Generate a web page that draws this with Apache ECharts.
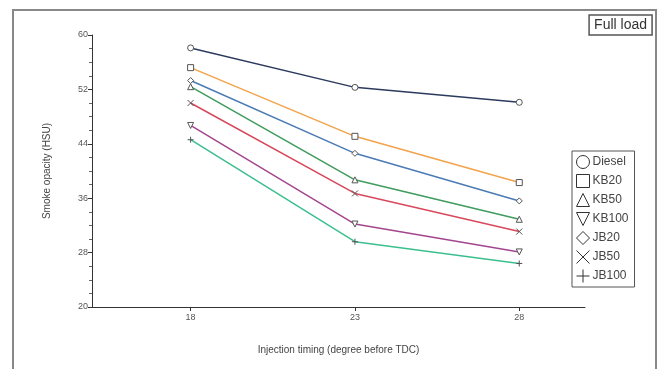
<!DOCTYPE html>
<html>
<head>
<meta charset="utf-8">
<script src="https://cdn.jsdelivr.net/npm/echarts@6/dist/echarts.min.js"></script>
<style>
  html, body { margin: 0; padding: 0; background: #fff; }
  #chart { width: 668px; height: 369px; }
</style>
</head>
<body>
<div id="chart"></div>
<script>
// Injection timing (degree before TDC)
const timings = [18, 23, 28];

// Smoke opacity (HSU) for each fuel
const diesel = [58.1, 52.3, 50.1];
const kb20   = [55.2, 45.1, 38.3];
const kb50   = [52.4, 38.7, 32.9];
const kb100  = [46.7, 32.2, 28.1];
const jb20   = [53.3, 42.6, 35.6];
const jb50   = [50.0, 36.7, 31.1];
const jb100  = [44.6, 29.6, 26.4];

const fuelNames = ['Diesel', 'KB20', 'KB50', 'KB100', 'JB20', 'JB50', 'JB100'];
const fuelValues = [diesel, kb20, kb50, kb100, jb20, jb50, jb100];

const yTicks = [20, 28, 36, 44, 52, 60];

const colors = ['#2c3a5e', '#f2a34c', '#3f9b5e', '#a3468f', '#4b7bb4', '#d8485c', '#3cbf8f'];
const symbols = [
  'circle',
  'rect',
  'triangle',
  'path://M0,0L10,0L5,10Z',
  'diamond',
  'path://M0,0L10,10M10,0L0,10',
  'path://M5,0L5,10M0,5L10,5'
];

const series = fuelNames.map((name, i) => ({
  name: name,
  type: 'line',
  data: timings.map((t, j) => [t, fuelValues[i][j]]),
  symbol: symbols[i],
  symbolSize: 6,
  lineStyle: { color: colors[i], width: 1.5 },
  itemStyle: { color: '#fff', borderColor: '#555', borderWidth: 1 },
  emphasis: { disabled: true },
  z: 3
}));

const chart = echarts.init(document.getElementById('chart'), null, { renderer: 'canvas' });
chart.setOption({
  animation: false,
  backgroundColor: '#fff',
  textStyle: { fontFamily: 'Liberation Sans, Arial, sans-serif' },
  title: {
    text: 'Full load',
    right: 16,
    top: 15,
    padding: [3, 5, 3, 5],
    borderColor: '#555',
    borderWidth: 1.5,
    textStyle: { fontSize: 14, fontWeight: 'normal', color: '#333' }
  },
  legend: {
    orient: 'vertical',
    left: 572,
    top: 151,
    padding: [4, 6, 4, 4],
    itemWidth: 13,
    itemHeight: 13,
    itemGap: 5,
    borderColor: '#555',
    borderWidth: 1,
    selectedMode: false,
    data: fuelNames.map((n, i) => ({ name: n, icon: symbols[i] })),
    itemStyle: { color: 'transparent', borderColor: '#333', borderWidth: 1 },
    textStyle: { fontSize: 12, color: '#444', padding: [0, 0, 0, -2] }
  },
  grid: { left: 92, top: 35, right: 83, bottom: 62 },
  xAxis: {
    type: 'value',
    min: 15,
    max: 30,
    name: 'Injection timing (degree before TDC)',
    nameLocation: 'middle',
    nameGap: 38,
    nameTextStyle: { fontSize: 10, color: '#444' },
    axisLine: { lineStyle: { color: '#333', width: 1 } },
    axisTick: { show: true, customValues: timings, length: 4, lineStyle: { color: '#333' } },
    axisLabel: { customValues: timings, fontSize: 9, color: '#555', margin: 6 },
    splitLine: { show: false }
  },
  yAxis: {
    type: 'value',
    min: 20,
    max: 60,
    interval: 8,
    name: 'Smoke opacity (HSU)',
    nameLocation: 'middle',
    nameGap: 40,
    nameTextStyle: { fontSize: 10, color: '#444' },
    axisLine: { show: true, lineStyle: { color: '#333', width: 1 } },
    axisTick: { show: true, length: 4, lineStyle: { color: '#333' } },
    minorTick: { show: true, splitNumber: 4, length: 3, lineStyle: { color: '#666' } },
    axisLabel: { customValues: yTicks, fontSize: 9, color: '#555', margin: 4 },
    splitLine: { show: false }
  },
  graphic: [
    {
      type: 'polyline',
      silent: true,
      shape: { points: [[13, 369], [13, 10], [656, 10], [656, 369]] },
      style: { stroke: '#888', lineWidth: 2, fill: null }
    }
  ],
  series: series
});
</script>
</body>
</html>
